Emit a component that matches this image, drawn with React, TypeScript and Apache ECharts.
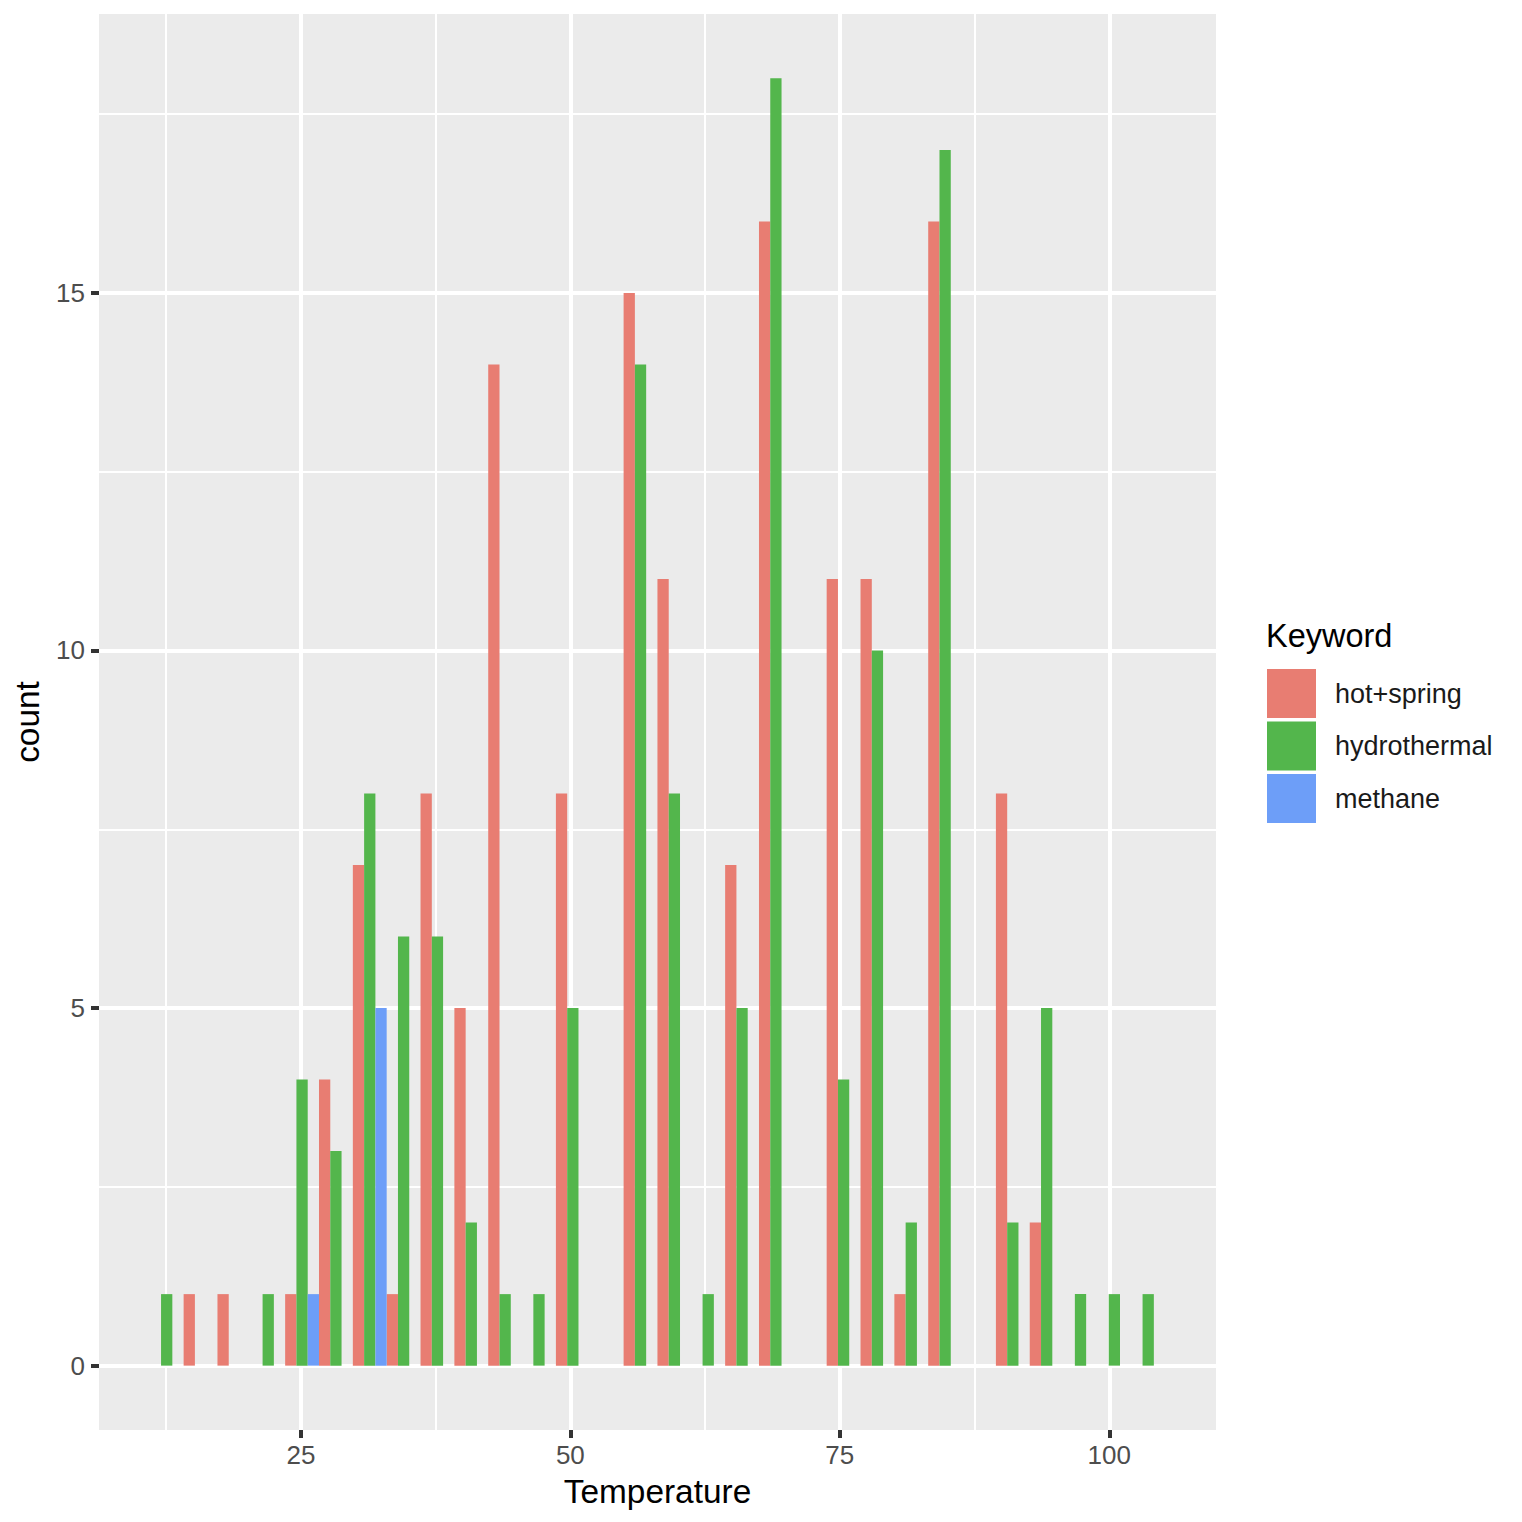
import { useEffect, useRef } from "react"
import * as echarts from "echarts"

// bin centres (°C) and counts per keyword
const binCenters = [
  12.55, 15.69, 18.83, 21.97, 25.11, 28.25, 31.39, 34.53, 37.67, 40.81,
  43.95, 47.09, 50.23, 53.37, 56.51, 59.65, 62.79, 65.93, 69.07, 72.21,
  75.35, 78.49, 81.63, 84.77, 87.91, 91.05, 94.19, 97.33, 100.47, 103.61,
]
const hotSpring = [0, 1, 1, 0, 1, 4, 7, 1, 8, 5, 14, 0, 8, 0, 15, 11, 0, 7, 16, 0, 11, 11, 1, 16, 0, 8, 2, 0, 0, 0]
const hydrothermal = [1, 0, 0, 1, 4, 3, 8, 6, 6, 2, 1, 1, 5, 0, 14, 8, 1, 5, 18, 0, 4, 10, 2, 17, 0, 2, 5, 1, 1, 1]
const methane = [0, 0, 0, 0, 1, 0, 5, 0, 0, 0, 0, 0, 0, 0, 0, 0, 0, 0, 0, 0, 0, 0, 0, 0, 0, 0, 0, 0, 0, 0]

const keywords = ["hot+spring", "hydrothermal", "methane"]
const colors = ["#E87D72", "#53B64C", "#6D9EF8"]

const xBreaks = [25, 50, 75, 100]
const xMinor = [12.5, 37.5, 62.5, 87.5]
const yBreaks = [0, 5, 10, 15]
const yMinor = [2.5, 7.5, 12.5, 17.5]

const FONT = "Liberation Sans, Arial, Helvetica, sans-serif"

export default function App() {
  const chartRef = useRef<HTMLDivElement>(null)

  useEffect(() => {
    if (!chartRef.current) return
    const chart = echarts.init(chartRef.current, null, { renderer: "svg" })

    const seriesValues = [hotSpring, hydrothermal, methane]

    const majorAxis = {
      splitLine: { show: true, lineStyle: { color: "#FFFFFF", width: 4 } },
      axisLine: { show: false, onZero: false },
      axisTick: { show: true, length: 8, lineStyle: { color: "#333333", width: 4 } },
      axisLabel: { fontSize: 26, color: "#4D4D4D", fontFamily: FONT },
    }
    const minorAxis = {
      splitLine: { show: true, lineStyle: { color: "#FFFFFF", width: 2 } },
      axisLine: { show: false, onZero: false },
      axisTick: { show: false },
      axisLabel: { show: false },
    }

    chart.setOption({
      animation: false,
      textStyle: { fontFamily: FONT },
      grid: {
        left: 99,
        top: 14,
        width: 1117,
        height: 1416,
        show: true,
        backgroundColor: "#EBEBEB",
        borderWidth: 0,
        containLabel: false,
        outerBoundsMode: "none",
      },
      title: {
        text: "Keyword",
        left: 1266,
        top: 619,
        padding: 0,
        textStyle: { fontSize: 32.5, fontWeight: "normal", color: "#000000", fontFamily: FONT },
      },
      legend: {
        orient: "vertical",
        left: 1267,
        top: 669,
        padding: 0,
        itemWidth: 49,
        itemHeight: 49,
        itemGap: 3.5,
        icon: "rect",
        data: keywords,
        textStyle: { fontSize: 27, color: "#1A1A1A", fontFamily: FONT, padding: [0, 0, 0, 14] },
      },
      xAxis: [
        {
          type: "value",
          min: 6.27,
          max: 109.9,
          position: "bottom",
          name: "Temperature",
          nameLocation: "middle",
          nameGap: 45,
          nameTextStyle: { fontSize: 33.4, color: "#000000", fontFamily: FONT },
          ...majorAxis,
          axisTick: { ...majorAxis.axisTick, customValues: xBreaks },
          axisLabel: { ...majorAxis.axisLabel, margin: 12, customValues: xBreaks },
        },
        {
          type: "value",
          min: 6.27,
          max: 109.9,
          position: "top",
          ...minorAxis,
          axisTick: { show: false, customValues: xMinor },
          axisLabel: { show: false, customValues: xMinor },
        },
      ],
      yAxis: [
        {
          type: "value",
          min: -0.9,
          max: 18.9,
          position: "left",
          name: "count",
          nameLocation: "middle",
          nameGap: 55,
          nameTextStyle: { fontSize: 33.4, color: "#000000", fontFamily: FONT },
          ...majorAxis,
          axisTick: { ...majorAxis.axisTick, customValues: yBreaks },
          axisLabel: { ...majorAxis.axisLabel, margin: 14, customValues: yBreaks },
        },
        {
          type: "value",
          min: -0.9,
          max: 18.9,
          position: "right",
          ...minorAxis,
          axisTick: { show: false, customValues: yMinor },
          axisLabel: { show: false, customValues: yMinor },
        },
      ],
      series: keywords.map((name, i) => ({
        name,
        type: "bar",
        xAxisIndex: 0,
        yAxisIndex: 0,
        barWidth: "33.33%",
        barGap: "0%",
        itemStyle: { color: colors[i] },
        data: binCenters.map((c, j) => [c, seriesValues[i][j]]),
      })),
    })

    return () => {
      chart.dispose()
    }
  }, [])

  return (
    <div
      ref={chartRef}
      style={{ position: "absolute", left: 0, top: 0, width: 1522, height: 1522 }}
    />
  )
}
